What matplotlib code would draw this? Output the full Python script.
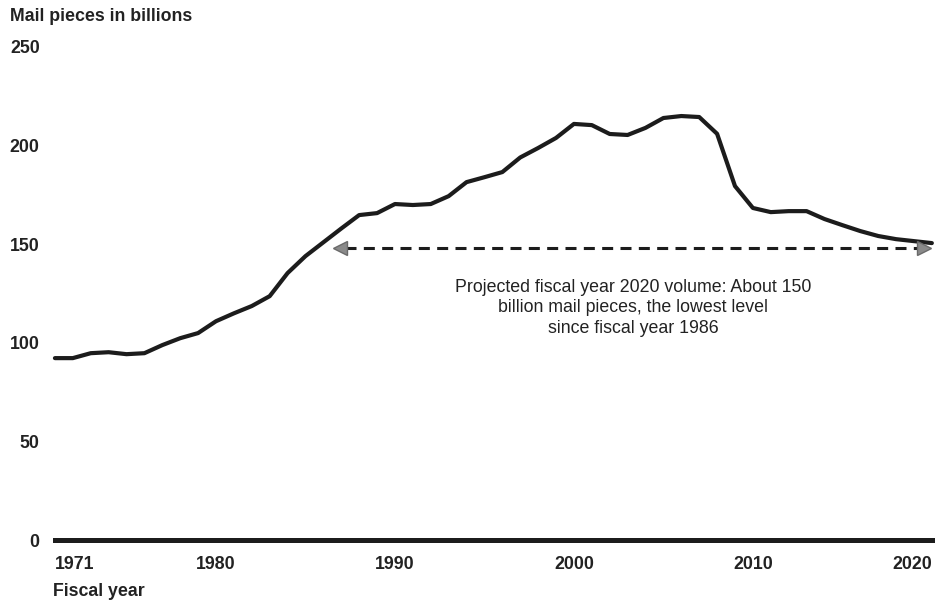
import matplotlib.pyplot as plt

plt.rcParams['font.family'] = ['Liberation Sans', 'DejaVu Sans']

# mail volume, billions of pieces
years = list(range(1971, 2021))
volume = [92.3, 92.3, 94.8, 95.3, 94.3, 94.8, 98.9, 102.4, 105.0, 111.0,
          115.0, 118.7, 123.7, 135.4, 144.0, 151.0, 158.0, 164.8, 165.8, 170.4,
          169.9, 170.4, 174.4, 181.5, 184.0, 186.6, 194.0, 198.8, 203.9, 211.0,
          210.4, 205.9, 205.4, 209.0, 214.0, 215.0, 214.5, 206.0, 179.5, 168.4,
          166.3, 166.8, 166.8, 162.8, 159.7, 156.7, 154.2, 152.6, 151.6, 150.6]

yticks = [0, 50, 100, 150, 200, 250]
xticks = [1971, 1980, 1990, 2000, 2010, 2020]

proj_start = 1986.6
proj_end = 2019.9
proj_level = 148

note = ("Projected fiscal year 2020 volume: About 150\n"
        "billion mail pieces, the lowest level\n"
        "since fiscal year 1986")

fig = plt.figure(figsize=(9.47, 6.07), dpi=100)
ax = fig.add_axes([0.058, 0.110, 0.926, 0.8126])

ink = "#1c1c1c"
ax.plot(years, volume, color=ink, lw=3.0, solid_capstyle="round",
        solid_joinstyle="round", clip_on=False, zorder=3)

# baseline
ax.axhline(0, color=ink, lw=3.6, zorder=2, clip_on=False)

# projection arrow
ax.plot([proj_start + 0.6, proj_end - 0.6], [proj_level, proj_level],
        color=ink, lw=2.2, dashes=(3.6, 2.4), zorder=2)
ax.plot([proj_start + 0.35], [proj_level], marker="<", ms=10,
        color="#8a8a8a", mec="#6a6a6a", zorder=3, clip_on=False)
ax.plot([proj_end - 0.35], [proj_level], marker=">", ms=10,
        color="#8a8a8a", mec="#6a6a6a", zorder=3, clip_on=False)

ax.text(2003.3, 132.5, note, ha="center", va="top", fontsize=12.8,
        color="#222222", linespacing=1.27)

ax.set_xlim(1971, 2020)
ax.set_ylim(0, 250)
for s in ax.spines.values():
    s.set_visible(False)

ax.set_yticks(yticks)
ax.set_yticklabels([str(v) for v in yticks], fontsize=12.8,
                   fontweight="bold", color="#222222")
ax.set_xticks(xticks)
ax.set_xticklabels([str(v) for v in xticks], fontsize=12.8,
                   fontweight="bold", color="#222222")
ax.tick_params(axis="y", length=0, pad=11)
ax.tick_params(axis="x", length=0, pad=11)
labels = ax.get_xticklabels()
labels[0].set_ha("left")
labels[-1].set_ha("right")

fig.text(0.011, 0.972, "Mail pieces in billions", ha="left", va="center",
         fontsize=12.8, fontweight="bold", color="#222222")
fig.text(0.056, 0.025, "Fiscal year", ha="left", va="center",
         fontsize=12.8, fontweight="bold", color="#222222")

fig.savefig("out.png", dpi=100)
